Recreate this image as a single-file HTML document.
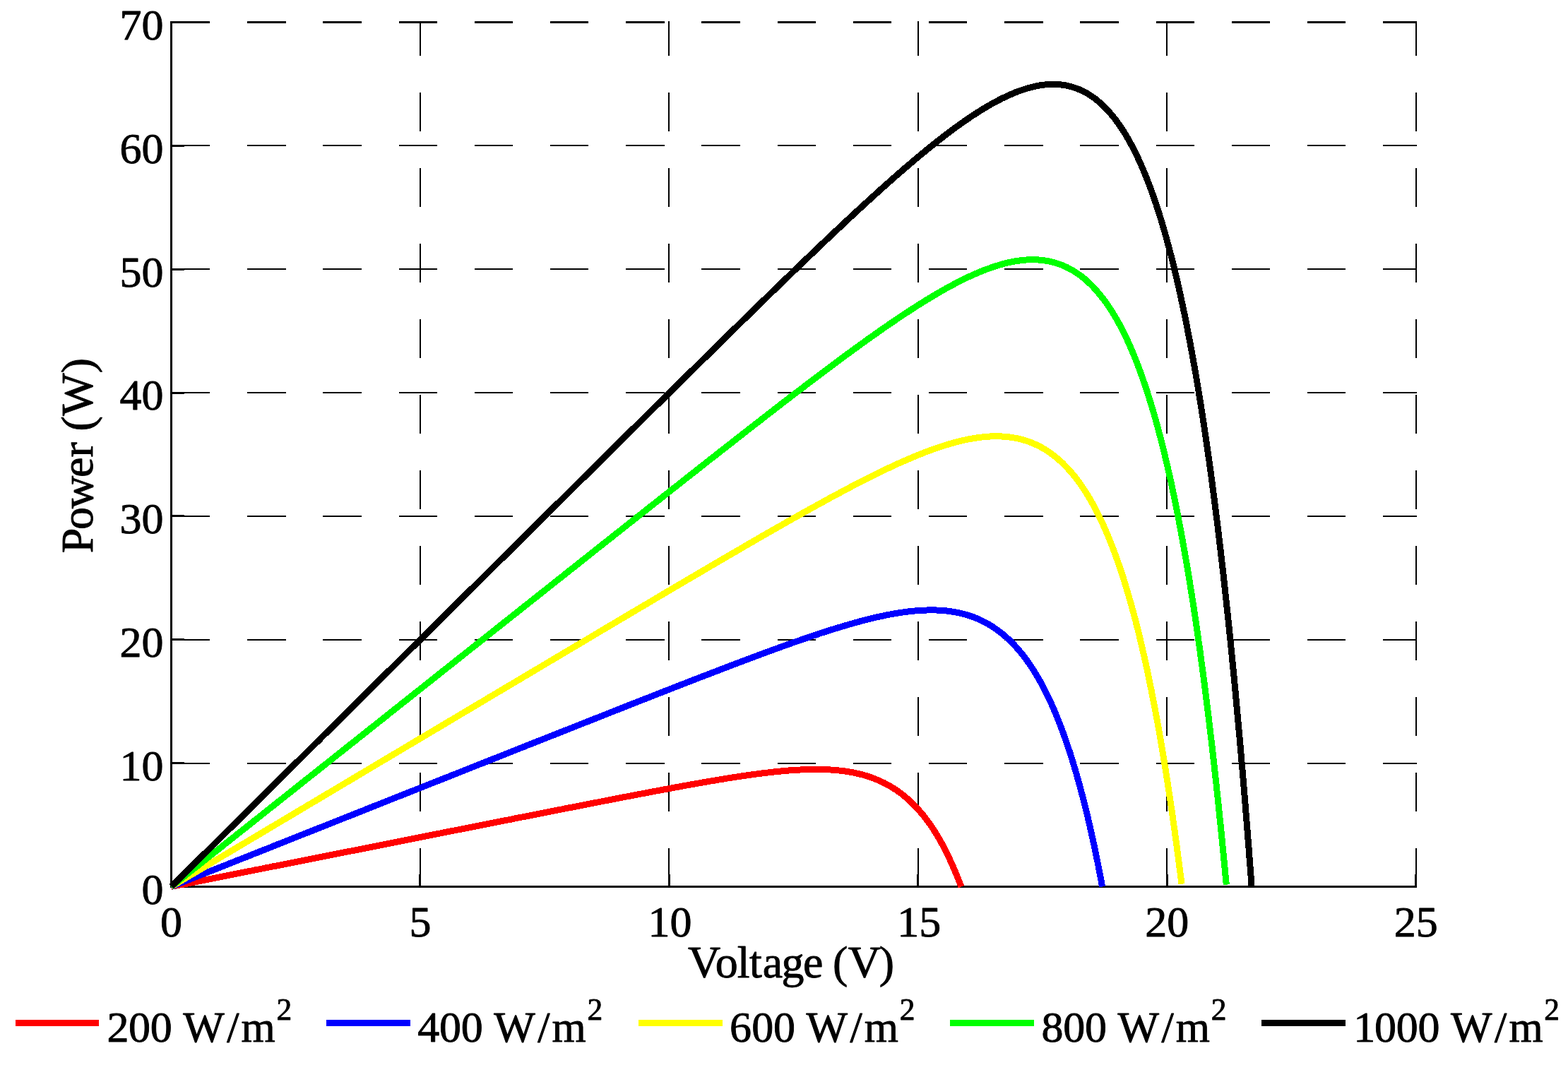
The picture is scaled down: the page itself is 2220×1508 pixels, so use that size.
<!DOCTYPE html>
<html lang="en"><head><meta charset="utf-8"><title>Power vs Voltage</title>
<style>html,body{margin:0;padding:0;background:#fff;width:2220px;height:1508px;overflow:hidden;}svg{display:block;}text{font-family:"Liberation Serif",serif;fill:#000;white-space:pre;}</style>
</head><body>
<svg width="2220" height="1508" viewBox="0 0 2220 1508">
<rect x="0" y="0" width="2220" height="1508" fill="#fff"/>
<g stroke="#000" fill="none" shape-rendering="crispEdges">
<line x1="242.90" y1="1080.64" x2="2006.25" y2="1080.64" stroke-width="2" stroke-dasharray="54.4 52.800000000000004"/>
<line x1="242.90" y1="905.78" x2="2006.25" y2="905.78" stroke-width="2" stroke-dasharray="54.4 52.800000000000004"/>
<line x1="242.90" y1="730.92" x2="2006.25" y2="730.92" stroke-width="2" stroke-dasharray="54.4 52.800000000000004"/>
<line x1="242.90" y1="556.06" x2="2006.25" y2="556.06" stroke-width="2" stroke-dasharray="54.4 52.800000000000004"/>
<line x1="242.90" y1="381.20" x2="2006.25" y2="381.20" stroke-width="2" stroke-dasharray="54.4 52.800000000000004"/>
<line x1="242.90" y1="206.34" x2="2006.25" y2="206.34" stroke-width="2" stroke-dasharray="54.4 52.800000000000004"/>
<line x1="242.90" y1="31.48" x2="2006.25" y2="31.48" stroke-width="3" stroke-dasharray="54.4 52.800000000000004"/>
<line x1="594.95" y1="1255.50" x2="594.95" y2="29.98" stroke-width="2" stroke-dasharray="54.5 52.5"/>
<line x1="947.40" y1="1255.50" x2="947.40" y2="29.98" stroke-width="2" stroke-dasharray="54.5 52.5"/>
<line x1="1299.85" y1="1255.50" x2="1299.85" y2="29.98" stroke-width="2" stroke-dasharray="54.5 52.5"/>
<line x1="1652.30" y1="1255.50" x2="1652.30" y2="29.98" stroke-width="2" stroke-dasharray="54.5 52.5"/>
<line x1="2004.75" y1="1255.50" x2="2004.75" y2="29.98" stroke-width="2" stroke-dasharray="54.5 52.5"/>
<line x1="242.50" y1="29.98" x2="242.50" y2="1257.00" stroke-width="3"/>
<line x1="241.00" y1="1255.50" x2="2006.25" y2="1255.50" stroke-width="3"/>
<line x1="242.50" y1="1080.64" x2="260.50" y2="1080.64" stroke-width="3"/>
<line x1="242.50" y1="905.78" x2="260.50" y2="905.78" stroke-width="3"/>
<line x1="242.50" y1="730.92" x2="260.50" y2="730.92" stroke-width="3"/>
<line x1="242.50" y1="556.06" x2="260.50" y2="556.06" stroke-width="3"/>
<line x1="242.50" y1="381.20" x2="260.50" y2="381.20" stroke-width="3"/>
<line x1="242.50" y1="206.34" x2="260.50" y2="206.34" stroke-width="3"/>
<line x1="594.95" y1="1255.50" x2="594.95" y2="1237.50" stroke-width="3"/>
<line x1="947.40" y1="1255.50" x2="947.40" y2="1237.50" stroke-width="3"/>
<line x1="1299.85" y1="1255.50" x2="1299.85" y2="1237.50" stroke-width="3"/>
<line x1="1652.30" y1="1255.50" x2="1652.30" y2="1237.50" stroke-width="3"/>
<line x1="2004.75" y1="1255.50" x2="2004.75" y2="1237.50" stroke-width="3"/>
</g>
<g fill="none" stroke-width="9" stroke-linejoin="round" stroke-linecap="butt" shape-rendering="crispEdges">
<path stroke="#ff0000" d="M242.5 1255.5L247.0 1254.6L251.4 1253.7L255.9 1252.8L260.3 1252.0L264.8 1251.1L269.2 1250.2L273.6 1249.3L278.1 1248.4L282.5 1247.6L286.9 1246.7L291.3 1245.8L295.7 1244.9L300.1 1244.1L304.5 1243.2L308.8 1242.3L313.2 1241.5L317.6 1240.6L321.9 1239.7L326.3 1238.9L330.6 1238.0L334.9 1237.2L339.3 1236.3L343.6 1235.4L347.9 1234.6L352.2 1233.7L356.5 1232.9L360.8 1232.0L365.1 1231.2L369.4 1230.3L373.6 1229.5L377.9 1228.6L382.2 1227.8L386.4 1226.9L390.7 1226.1L394.9 1225.3L399.1 1224.4L403.4 1223.6L407.6 1222.7L411.8 1221.9L416.0 1221.1L420.2 1220.2L424.4 1219.4L428.6 1218.6L432.7 1217.7L436.9 1216.9L441.1 1216.1L445.2 1215.3L449.4 1214.4L453.5 1213.6L457.6 1212.8L461.8 1212.0L465.9 1211.2L470.0 1210.4L474.1 1209.5L478.2 1208.7L482.3 1207.9L486.4 1207.1L490.4 1206.3L494.5 1205.5L498.6 1204.7L502.6 1203.9L506.7 1203.1L510.7 1202.3L514.7 1201.5L518.8 1200.7L522.8 1199.9L526.8 1199.1L530.8 1198.3L534.8 1197.5L538.8 1196.7L542.8 1195.9L546.7 1195.1L550.7 1194.3L554.7 1193.6L558.6 1192.8L562.6 1192.0L566.5 1191.2L570.4 1190.4L574.4 1189.6L578.3 1188.9L582.2 1188.1L586.1 1187.3L590.0 1186.5L593.9 1185.8L597.7 1185.0L601.6 1184.2L605.5 1183.5L609.3 1182.7L613.2 1181.9L617.0 1181.2L620.9 1180.4L624.7 1179.7L628.5 1178.9L632.3 1178.1L636.1 1177.4L639.9 1176.6L643.7 1175.9L647.5 1175.1L651.3 1174.4L655.0 1173.6L658.8 1172.9L662.6 1172.2L666.3 1171.4L670.0 1170.7L673.8 1169.9L677.5 1169.2L681.2 1168.5L684.9 1167.7L688.6 1167.0L692.3 1166.3L696.0 1165.5L699.7 1164.8L703.3 1164.1L707.0 1163.4L710.7 1162.6L714.3 1161.9L717.9 1161.2L721.6 1160.5L725.2 1159.8L728.8 1159.0L732.4 1158.3L736.0 1157.6L739.6 1156.9L743.2 1156.2L746.8 1155.5L750.3 1154.8L753.9 1154.1L757.5 1153.4L761.0 1152.7L764.5 1152.0L768.1 1151.3L771.6 1150.6L775.1 1149.9L778.6 1149.2L782.1 1148.5L785.6 1147.8L789.1 1147.1L792.6 1146.5L796.0 1145.8L799.5 1145.1L802.9 1144.4L806.4 1143.7L809.8 1143.1L813.2 1142.4L816.7 1141.7L820.1 1141.0L823.5 1140.4L826.9 1139.7L830.2 1139.0L833.6 1138.4L837.0 1137.7L840.4 1137.1L843.7 1136.4L847.1 1135.8L850.4 1135.1L853.7 1134.5L857.0 1133.8L860.4 1133.2L863.7 1132.5L867.0 1131.9L870.2 1131.2L873.5 1130.6L876.8 1130.0L880.1 1129.3L883.3 1128.7L886.6 1128.1L889.8 1127.5L893.0 1126.8L896.3 1126.2L899.5 1125.6L902.7 1125.0L905.9 1124.4L909.1 1123.8L912.2 1123.2L915.4 1122.6L918.6 1122.0L921.7 1121.4L924.9 1120.8L928.0 1120.2L931.1 1119.6L934.3 1119.0L937.4 1118.4L940.5 1117.8L943.6 1117.3L946.7 1116.7L949.7 1116.1L952.8 1115.5L955.9 1115.0L958.9 1114.4L962.0 1113.9L965.0 1113.3L968.0 1112.8L971.0 1112.2L974.0 1111.7L977.0 1111.1L980.0 1110.6L983.0 1110.1L986.0 1109.5L989.0 1109.0L991.9 1108.5L994.9 1108.0L997.8 1107.5L1000.7 1106.9L1003.6 1106.4L1006.6 1105.9L1009.5 1105.5L1012.4 1105.0L1015.2 1104.5L1018.1 1104.0L1021.0 1103.5L1023.8 1103.1L1026.7 1102.6L1029.5 1102.1L1032.4 1101.7L1035.2 1101.2L1038.0 1100.8L1040.8 1100.4L1043.6 1099.9L1046.4 1099.5L1049.1 1099.1L1051.9 1098.7L1054.7 1098.3L1057.4 1097.9L1060.2 1097.5L1062.9 1097.1L1065.6 1096.7L1068.3 1096.4L1071.0 1096.0L1073.7 1095.6L1076.4 1095.3L1079.1 1094.9L1081.7 1094.6L1084.4 1094.3L1087.0 1094.0L1089.7 1093.7L1092.3 1093.4L1094.9 1093.1L1097.5 1092.8L1100.1 1092.5L1102.7 1092.3L1105.3 1092.0L1107.8 1091.8L1110.4 1091.6L1112.9 1091.3L1115.5 1091.1L1118.0 1090.9L1120.5 1090.7L1123.0 1090.6L1125.5 1090.4L1128.0 1090.2L1130.5 1090.1L1133.0 1090.0L1135.4 1089.8L1137.9 1089.7L1140.3 1089.6L1142.7 1089.6L1145.1 1089.5L1147.6 1089.4L1150.0 1089.4L1152.3 1089.4L1154.7 1089.4L1157.1 1089.4L1159.4 1089.4L1161.8 1089.4L1164.1 1089.5L1166.4 1089.5L1168.8 1089.6L1171.1 1089.7L1173.4 1089.8L1175.6 1090.0L1177.9 1090.1L1180.2 1090.3L1182.4 1090.5L1184.7 1090.6L1186.9 1090.9L1189.1 1091.1L1191.3 1091.4L1193.5 1091.6L1195.7 1091.9L1197.9 1092.2L1200.1 1092.6L1202.2 1092.9L1204.4 1093.3L1206.5 1093.7L1208.6 1094.1L1210.7 1094.5L1212.8 1095.0L1214.9 1095.5L1217.0 1096.0L1219.1 1096.5L1221.1 1097.0L1223.2 1097.6L1225.2 1098.2L1227.2 1098.8L1229.2 1099.4L1231.2 1100.1L1233.2 1100.8L1235.2 1101.5L1237.2 1102.2L1239.1 1103.0L1241.1 1103.8L1243.0 1104.6L1244.9 1105.4L1246.8 1106.3L1248.7 1107.2L1250.6 1108.1L1252.5 1109.0L1254.3 1110.0L1256.2 1110.9L1258.0 1112.0L1259.8 1113.0L1261.6 1114.1L1263.4 1115.2L1265.2 1116.3L1267.0 1117.4L1268.8 1118.6L1270.5 1119.8L1272.2 1121.0L1274.0 1122.3L1275.7 1123.5L1277.4 1124.8L1279.0 1126.2L1280.7 1127.5L1282.4 1128.9L1284.0 1130.3L1285.7 1131.7L1287.3 1133.2L1288.9 1134.7L1290.5 1136.2L1292.0 1137.7L1293.6 1139.3L1295.2 1140.9L1296.7 1142.5L1298.2 1144.1L1299.7 1145.8L1301.2 1147.5L1302.7 1149.2L1304.2 1150.9L1305.6 1152.6L1307.1 1154.4L1308.5 1156.2L1309.9 1158.0L1311.3 1159.8L1312.7 1161.7L1314.1 1163.5L1315.4 1165.4L1316.8 1167.3L1318.1 1169.2L1319.4 1171.1L1320.7 1173.1L1322.0 1175.0L1323.2 1177.0L1324.5 1179.0L1325.7 1181.0L1326.9 1183.0L1328.1 1185.0L1329.3 1187.0L1330.5 1189.0L1331.6 1191.1L1332.7 1193.1L1333.8 1195.1L1334.9 1197.1L1336.0 1199.2L1337.1 1201.2L1338.1 1203.2L1339.2 1205.3L1340.2 1207.3L1341.2 1209.3L1342.1 1211.3L1343.1 1213.3L1344.0 1215.3L1344.9 1217.2L1345.8 1219.2L1346.7 1221.1L1347.6 1223.0L1348.4 1224.9L1349.2 1226.7L1350.0 1228.6L1350.8 1230.4L1351.6 1232.1L1352.3 1233.9L1353.0 1235.6L1353.7 1237.2L1354.3 1238.8L1355.0 1240.4L1355.6 1241.9L1356.2 1243.4L1356.7 1244.8L1357.3 1246.2L1357.8 1247.5L1358.2 1248.7L1358.7 1249.8L1359.1 1250.9L1359.5 1251.9L1359.8 1252.8L1360.1 1253.6L1360.4 1254.3L1360.6 1254.9L1360.7 1255.3L1360.8 1255.5"/>
<path stroke="#0000ff" d="M242.5 1255.5L247.8 1253.4L253.0 1251.3L258.3 1249.2L263.5 1247.2L268.8 1245.1L274.0 1243.0L279.2 1240.9L284.4 1238.9L289.6 1236.8L294.8 1234.7L300.0 1232.7L305.2 1230.6L310.4 1228.6L315.5 1226.5L320.7 1224.5L325.8 1222.4L331.0 1220.4L336.1 1218.3L341.2 1216.3L346.4 1214.3L351.5 1212.3L356.6 1210.2L361.7 1208.2L366.7 1206.2L371.8 1204.2L376.9 1202.2L382.0 1200.2L387.0 1198.1L392.0 1196.1L397.1 1194.1L402.1 1192.2L407.1 1190.2L412.1 1188.2L417.1 1186.2L422.1 1184.2L427.1 1182.2L432.1 1180.2L437.1 1178.3L442.0 1176.3L447.0 1174.3L451.9 1172.4L456.9 1170.4L461.8 1168.5L466.7 1166.5L471.6 1164.6L476.5 1162.6L481.4 1160.7L486.3 1158.7L491.2 1156.8L496.1 1154.9L500.9 1152.9L505.8 1151.0L510.6 1149.1L515.5 1147.2L520.3 1145.2L525.1 1143.3L529.9 1141.4L534.7 1139.5L539.5 1137.6L544.3 1135.7L549.1 1133.8L553.9 1131.9L558.6 1130.0L563.4 1128.1L568.1 1126.3L572.9 1124.4L577.6 1122.5L582.3 1120.6L587.0 1118.8L591.7 1116.9L596.4 1115.0L601.1 1113.2L605.8 1111.3L610.4 1109.5L615.1 1107.6L619.8 1105.8L624.4 1103.9L629.0 1102.1L633.7 1100.3L638.3 1098.4L642.9 1096.6L647.5 1094.8L652.1 1093.0L656.7 1091.1L661.2 1089.3L665.8 1087.5L670.3 1085.7L674.9 1083.9L679.4 1082.1L684.0 1080.3L688.5 1078.5L693.0 1076.7L697.5 1074.9L702.0 1073.2L706.5 1071.4L711.0 1069.6L715.4 1067.8L719.9 1066.1L724.3 1064.3L728.8 1062.5L733.2 1060.8L737.6 1059.0L742.0 1057.3L746.4 1055.5L750.8 1053.8L755.2 1052.0L759.6 1050.3L764.0 1048.6L768.3 1046.9L772.7 1045.1L777.0 1043.4L781.4 1041.7L785.7 1040.0L790.0 1038.3L794.3 1036.6L798.6 1034.9L802.9 1033.2L807.2 1031.5L811.5 1029.8L815.7 1028.1L820.0 1026.4L824.2 1024.7L828.4 1023.1L832.7 1021.4L836.9 1019.7L841.1 1018.1L845.3 1016.4L849.5 1014.8L853.7 1013.1L857.8 1011.5L862.0 1009.8L866.1 1008.2L870.3 1006.5L874.4 1004.9L878.5 1003.3L882.6 1001.7L886.8 1000.0L890.8 998.4L894.9 996.8L899.0 995.2L903.1 993.6L907.1 992.0L911.2 990.4L915.2 988.8L919.3 987.3L923.3 985.7L927.3 984.1L931.3 982.5L935.3 981.0L939.3 979.4L943.2 977.9L947.2 976.3L951.1 974.8L955.1 973.2L959.0 971.7L962.9 970.2L966.9 968.6L970.8 967.1L974.7 965.6L978.5 964.1L982.4 962.6L986.3 961.1L990.1 959.6L994.0 958.1L997.8 956.6L1001.7 955.2L1005.5 953.7L1009.3 952.2L1013.1 950.8L1016.9 949.3L1020.6 947.9L1024.4 946.4L1028.2 945.0L1031.9 943.5L1035.7 942.1L1039.4 940.7L1043.1 939.3L1046.8 937.9L1050.5 936.5L1054.2 935.1L1057.9 933.7L1061.5 932.3L1065.2 931.0L1068.9 929.6L1072.5 928.3L1076.1 926.9L1079.7 925.6L1083.3 924.2L1086.9 922.9L1090.5 921.6L1094.1 920.3L1097.7 919.0L1101.2 917.7L1104.8 916.4L1108.3 915.1L1111.8 913.9L1115.3 912.6L1118.9 911.4L1122.3 910.1L1125.8 908.9L1129.3 907.7L1132.8 906.5L1136.2 905.3L1139.7 904.1L1143.1 902.9L1146.5 901.8L1149.9 900.6L1153.3 899.5L1156.7 898.4L1160.1 897.2L1163.5 896.1L1166.8 895.0L1170.2 894.0L1173.5 892.9L1176.8 891.8L1180.1 890.8L1183.4 889.8L1186.7 888.8L1190.0 887.8L1193.3 886.8L1196.5 885.8L1199.8 884.9L1203.0 883.9L1206.3 883.0L1209.5 882.1L1212.7 881.2L1215.9 880.3L1219.1 879.5L1222.2 878.6L1225.4 877.8L1228.5 877.0L1231.7 876.2L1234.8 875.5L1237.9 874.7L1241.0 874.0L1244.1 873.3L1247.2 872.6L1250.3 872.0L1253.3 871.3L1256.4 870.7L1259.4 870.1L1262.5 869.6L1265.5 869.0L1268.5 868.5L1271.5 868.0L1274.4 867.5L1277.4 867.1L1280.4 866.7L1283.3 866.3L1286.2 865.9L1289.2 865.6L1292.1 865.3L1295.0 865.0L1297.9 864.7L1300.7 864.5L1303.6 864.3L1306.4 864.2L1309.3 864.0L1312.1 864.0L1314.9 863.9L1317.7 863.9L1320.5 863.9L1323.3 863.9L1326.1 864.0L1328.8 864.1L1331.6 864.3L1334.3 864.5L1337.0 864.7L1339.7 864.9L1342.4 865.3L1345.1 865.6L1347.7 866.0L1350.4 866.4L1353.0 866.9L1355.7 867.4L1358.3 868.0L1360.9 868.6L1363.5 869.2L1366.1 869.9L1368.6 870.6L1371.2 871.4L1373.7 872.2L1376.3 873.1L1378.8 874.0L1381.3 875.0L1383.8 876.0L1386.2 877.1L1388.7 878.2L1391.2 879.4L1393.6 880.7L1396.0 881.9L1398.4 883.3L1400.8 884.7L1403.2 886.1L1405.6 887.6L1407.9 889.2L1410.3 890.8L1412.6 892.5L1414.9 894.2L1417.2 896.0L1419.5 897.8L1421.8 899.7L1424.0 901.7L1426.3 903.7L1428.5 905.8L1430.7 907.9L1432.9 910.1L1435.1 912.4L1437.3 914.7L1439.5 917.1L1441.6 919.6L1443.8 922.1L1445.9 924.6L1448.0 927.3L1450.1 930.0L1452.1 932.7L1454.2 935.6L1456.2 938.4L1458.3 941.4L1460.3 944.4L1462.3 947.5L1464.3 950.6L1466.2 953.8L1468.2 957.1L1470.1 960.4L1472.1 963.8L1474.0 967.2L1475.9 970.7L1477.7 974.3L1479.6 977.9L1481.4 981.6L1483.3 985.3L1485.1 989.1L1486.9 992.9L1488.7 996.8L1490.4 1000.8L1492.2 1004.8L1493.9 1008.9L1495.6 1013.0L1497.3 1017.2L1499.0 1021.4L1500.7 1025.6L1502.3 1029.9L1503.9 1034.3L1505.6 1038.7L1507.1 1043.1L1508.7 1047.6L1510.3 1052.1L1511.8 1056.6L1513.3 1061.2L1514.9 1065.8L1516.3 1070.5L1517.8 1075.1L1519.3 1079.8L1520.7 1084.5L1522.1 1089.3L1523.5 1094.0L1524.9 1098.8L1526.2 1103.6L1527.6 1108.4L1528.9 1113.2L1530.2 1117.9L1531.4 1122.7L1532.7 1127.5L1533.9 1132.3L1535.1 1137.1L1536.3 1141.8L1537.5 1146.6L1538.6 1151.3L1539.8 1156.0L1540.9 1160.6L1542.0 1165.3L1543.0 1169.8L1544.0 1174.4L1545.1 1178.9L1546.0 1183.3L1547.0 1187.7L1547.9 1192.0L1548.9 1196.2L1549.7 1200.4L1550.6 1204.5L1551.4 1208.5L1552.2 1212.4L1553.0 1216.2L1553.8 1219.9L1554.5 1223.5L1555.2 1226.9L1555.8 1230.3L1556.5 1233.5L1557.1 1236.5L1557.6 1239.4L1558.1 1242.1L1558.6 1244.7L1559.1 1247.0L1559.5 1249.2L1559.8 1251.0L1560.1 1252.7L1560.4 1254.0L1560.6 1255.0L1560.7 1255.5"/>
<path stroke="#ffff00" d="M242.5 1255.5L248.2 1252.1L253.9 1248.7L259.6 1245.3L265.3 1241.9L271.0 1238.5L276.7 1235.2L282.3 1231.8L288.0 1228.4L293.6 1225.0L299.3 1221.7L304.9 1218.3L310.5 1215.0L316.2 1211.6L321.8 1208.3L327.4 1205.0L332.9 1201.7L338.5 1198.3L344.1 1195.0L349.7 1191.7L355.2 1188.4L360.8 1185.1L366.3 1181.8L371.8 1178.5L377.3 1175.2L382.8 1171.9L388.3 1168.7L393.8 1165.4L399.3 1162.1L404.8 1158.9L410.3 1155.6L415.7 1152.4L421.2 1149.1L426.6 1145.9L432.0 1142.7L437.4 1139.4L442.9 1136.2L448.3 1133.0L453.7 1129.8L459.0 1126.6L464.4 1123.4L469.8 1120.2L475.1 1117.0L480.5 1113.8L485.8 1110.6L491.2 1107.5L496.5 1104.3L501.8 1101.1L507.1 1098.0L512.4 1094.8L517.7 1091.7L523.0 1088.5L528.2 1085.4L533.5 1082.3L538.7 1079.1L544.0 1076.0L549.2 1072.9L554.4 1069.8L559.6 1066.7L564.8 1063.6L570.0 1060.5L575.2 1057.4L580.4 1054.3L585.6 1051.3L590.7 1048.2L595.9 1045.1L601.0 1042.1L606.1 1039.0L611.3 1036.0L616.4 1032.9L621.5 1029.9L626.6 1026.9L631.7 1023.8L636.7 1020.8L641.8 1017.8L646.9 1014.8L651.9 1011.8L656.9 1008.8L662.0 1005.8L667.0 1002.8L672.0 999.8L677.0 996.8L682.0 993.9L687.0 990.9L691.9 987.9L696.9 985.0L701.9 982.0L706.8 979.1L711.7 976.2L716.7 973.2L721.6 970.3L726.5 967.4L731.4 964.5L736.3 961.6L741.1 958.7L746.0 955.8L750.9 952.9L755.7 950.0L760.6 947.1L765.4 944.3L770.2 941.4L775.0 938.5L779.8 935.7L784.6 932.8L789.4 930.0L794.2 927.2L798.9 924.3L803.7 921.5L808.4 918.7L813.1 915.9L817.9 913.1L822.6 910.3L827.3 907.5L832.0 904.7L836.7 901.9L841.3 899.1L846.0 896.3L850.6 893.6L855.3 890.8L859.9 888.1L864.6 885.3L869.2 882.6L873.8 879.9L878.4 877.1L883.0 874.4L887.5 871.7L892.1 869.0L896.6 866.3L901.2 863.6L905.7 860.9L910.3 858.2L914.8 855.6L919.3 852.9L923.8 850.2L928.2 847.6L932.7 844.9L937.2 842.3L941.6 839.7L946.1 837.0L950.5 834.4L954.9 831.8L959.4 829.2L963.8 826.6L968.2 824.0L972.5 821.4L976.9 818.9L981.3 816.3L985.6 813.7L990.0 811.2L994.3 808.6L998.6 806.1L1002.9 803.6L1007.2 801.0L1011.5 798.5L1015.8 796.0L1020.1 793.5L1024.3 791.0L1028.6 788.6L1032.8 786.1L1037.0 783.6L1041.3 781.2L1045.5 778.7L1049.7 776.3L1053.8 773.8L1058.0 771.4L1062.2 769.0L1066.3 766.6L1070.5 764.2L1074.6 761.8L1078.7 759.4L1082.8 757.1L1086.9 754.7L1091.0 752.4L1095.1 750.0L1099.2 747.7L1103.2 745.4L1107.3 743.1L1111.3 740.8L1115.3 738.5L1119.4 736.2L1123.4 733.9L1127.3 731.7L1131.3 729.5L1135.3 727.2L1139.3 725.0L1143.2 722.8L1147.1 720.6L1151.1 718.4L1155.0 716.3L1158.9 714.1L1162.8 712.0L1166.7 709.8L1170.5 707.7L1174.4 705.6L1178.2 703.5L1182.1 701.5L1185.9 699.4L1189.7 697.4L1193.5 695.3L1197.3 693.3L1201.1 691.3L1204.9 689.3L1208.6 687.4L1212.4 685.4L1216.1 683.5L1219.8 681.6L1223.5 679.7L1227.2 677.8L1230.9 675.9L1234.6 674.1L1238.3 672.3L1241.9 670.5L1245.6 668.7L1249.2 666.9L1252.8 665.2L1256.4 663.5L1260.0 661.8L1263.6 660.1L1267.2 658.5L1270.7 656.8L1274.3 655.2L1277.8 653.7L1281.4 652.1L1284.9 650.6L1288.4 649.1L1291.9 647.6L1295.3 646.2L1298.8 644.7L1302.3 643.3L1305.7 642.0L1309.1 640.6L1312.6 639.3L1316.0 638.1L1319.4 636.8L1322.7 635.6L1326.1 634.4L1329.5 633.3L1332.8 632.2L1336.1 631.1L1339.5 630.1L1342.8 629.1L1346.1 628.1L1349.4 627.2L1352.6 626.3L1355.9 625.4L1359.1 624.6L1362.4 623.8L1365.6 623.1L1368.8 622.4L1372.0 621.8L1375.2 621.2L1378.3 620.6L1381.5 620.1L1384.6 619.7L1387.8 619.2L1390.9 618.9L1394.0 618.6L1397.1 618.3L1400.2 618.1L1403.2 617.9L1406.3 617.8L1409.3 617.8L1412.4 617.8L1415.4 617.9L1418.4 618.0L1421.4 618.2L1424.3 618.4L1427.3 618.7L1430.3 619.1L1433.2 619.5L1436.1 620.0L1439.0 620.5L1441.9 621.1L1444.8 621.8L1447.7 622.6L1450.5 623.4L1453.4 624.3L1456.2 625.3L1459.0 626.3L1461.8 627.4L1464.6 628.6L1467.4 629.9L1470.1 631.2L1472.9 632.6L1475.6 634.1L1478.3 635.7L1481.0 637.3L1483.7 639.1L1486.4 640.9L1489.0 642.8L1491.7 644.8L1494.3 646.9L1496.9 649.0L1499.5 651.3L1502.1 653.6L1504.7 656.0L1507.2 658.6L1509.8 661.2L1512.3 663.9L1514.8 666.7L1517.3 669.6L1519.8 672.5L1522.3 675.6L1524.7 678.8L1527.1 682.1L1529.6 685.4L1532.0 688.9L1534.4 692.5L1536.7 696.1L1539.1 699.9L1541.5 703.8L1543.8 707.7L1546.1 711.8L1548.4 715.9L1550.7 720.2L1552.9 724.6L1555.2 729.0L1557.4 733.6L1559.7 738.3L1561.9 743.1L1564.0 747.9L1566.2 752.9L1568.4 758.0L1570.5 763.2L1572.6 768.4L1574.7 773.8L1576.8 779.3L1578.9 784.8L1580.9 790.5L1583.0 796.3L1585.0 802.1L1587.0 808.1L1589.0 814.1L1591.0 820.3L1592.9 826.5L1594.8 832.8L1596.7 839.2L1598.6 845.7L1600.5 852.3L1602.4 859.0L1604.2 865.7L1606.1 872.5L1607.9 879.4L1609.6 886.4L1611.4 893.4L1613.2 900.6L1614.9 907.7L1616.6 915.0L1618.3 922.3L1620.0 929.6L1621.6 937.1L1623.3 944.5L1624.9 952.0L1626.5 959.6L1628.0 967.2L1629.6 974.8L1631.1 982.5L1632.6 990.2L1634.1 997.9L1635.6 1005.6L1637.0 1013.4L1638.5 1021.1L1639.9 1028.9L1641.3 1036.7L1642.6 1044.4L1643.9 1052.2L1645.3 1059.9L1646.6 1067.6L1647.8 1075.3L1649.1 1082.9L1650.3 1090.5L1651.5 1098.0L1652.7 1105.5L1653.8 1112.9L1654.9 1120.3L1656.0 1127.5L1657.1 1134.7L1658.1 1141.8L1659.2 1148.8L1660.2 1155.7L1661.1 1162.4L1662.0 1169.0L1663.0 1175.5L1663.8 1181.8L1664.7 1188.0L1665.5 1194.0L1666.3 1199.8L1667.0 1205.4L1667.7 1210.8L1668.4 1216.0L1669.1 1220.9L1669.7 1225.6L1670.2 1230.0L1670.8 1234.1L1671.2 1237.9L1671.7 1241.4L1672.1 1244.4L1672.4 1247.1L1672.7 1249.3L1672.9 1250.9L1673.0 1251.7"/>
<path stroke="#00ff00" d="M242.5 1255.5L248.5 1250.8L254.4 1246.0L260.4 1241.3L266.3 1236.6L272.3 1231.9L278.2 1227.2L284.1 1222.5L290.0 1217.8L295.9 1213.1L301.8 1208.4L307.7 1203.8L313.6 1199.1L319.4 1194.4L325.3 1189.8L331.1 1185.2L336.9 1180.5L342.8 1175.9L348.6 1171.3L354.4 1166.7L360.2 1162.1L366.0 1157.5L371.8 1152.9L377.5 1148.3L383.3 1143.7L389.1 1139.2L394.8 1134.6L400.5 1130.1L406.3 1125.5L412.0 1121.0L417.7 1116.4L423.4 1111.9L429.1 1107.4L434.7 1102.9L440.4 1098.4L446.1 1093.9L451.7 1089.4L457.4 1084.9L463.0 1080.5L468.6 1076.0L474.2 1071.6L479.8 1067.1L485.4 1062.7L491.0 1058.2L496.6 1053.8L502.2 1049.4L507.7 1045.0L513.3 1040.6L518.8 1036.2L524.3 1031.8L529.9 1027.4L535.4 1023.0L540.9 1018.7L546.4 1014.3L551.8 1009.9L557.3 1005.6L562.8 1001.3L568.2 996.9L573.7 992.6L579.1 988.3L584.5 984.0L589.9 979.7L595.4 975.4L600.7 971.1L606.1 966.9L611.5 962.6L616.9 958.3L622.2 954.1L627.6 949.8L632.9 945.6L638.3 941.4L643.6 937.1L648.9 932.9L654.2 928.7L659.5 924.5L664.7 920.3L670.0 916.2L675.3 912.0L680.5 907.8L685.8 903.7L691.0 899.5L696.2 895.4L701.4 891.2L706.6 887.1L711.8 883.0L717.0 878.9L722.2 874.8L727.3 870.7L732.5 866.6L737.6 862.5L742.8 858.4L747.9 854.4L753.0 850.3L758.1 846.3L763.2 842.2L768.3 838.2L773.4 834.2L778.4 830.2L783.5 826.1L788.5 822.1L793.6 818.2L798.6 814.2L803.6 810.2L808.6 806.2L813.6 802.3L818.6 798.3L823.5 794.4L828.5 790.5L833.5 786.5L838.4 782.6L843.3 778.7L848.2 774.8L853.2 770.9L858.1 767.0L863.0 763.2L867.8 759.3L872.7 755.4L877.6 751.6L882.4 747.8L887.3 743.9L892.1 740.1L896.9 736.3L901.7 732.5L906.5 728.7L911.3 724.9L916.1 721.1L920.8 717.4L925.6 713.6L930.3 709.9L935.1 706.1L939.8 702.4L944.5 698.7L949.2 694.9L953.9 691.2L958.6 687.6L963.3 683.9L967.9 680.2L972.6 676.5L977.2 672.9L981.9 669.2L986.5 665.6L991.1 662.0L995.7 658.3L1000.3 654.7L1004.8 651.1L1009.4 647.6L1014.0 644.0L1018.5 640.4L1023.0 636.9L1027.6 633.3L1032.1 629.8L1036.6 626.3L1041.1 622.7L1045.6 619.2L1050.0 615.8L1054.5 612.3L1058.9 608.8L1063.4 605.4L1067.8 601.9L1072.2 598.5L1076.6 595.1L1081.0 591.6L1085.4 588.2L1089.7 584.9L1094.1 581.5L1098.5 578.1L1102.8 574.8L1107.1 571.4L1111.4 568.1L1115.7 564.8L1120.0 561.5L1124.3 558.2L1128.6 555.0L1132.8 551.7L1137.1 548.5L1141.3 545.2L1145.5 542.0L1149.8 538.8L1154.0 535.6L1158.2 532.5L1162.3 529.3L1166.5 526.2L1170.7 523.1L1174.8 520.0L1178.9 516.9L1183.1 513.8L1187.2 510.8L1191.3 507.7L1195.4 504.7L1199.4 501.7L1203.5 498.7L1207.6 495.8L1211.6 492.8L1215.6 489.9L1219.6 487.0L1223.7 484.1L1227.7 481.2L1231.6 478.4L1235.6 475.6L1239.6 472.8L1243.5 470.0L1247.4 467.2L1251.4 464.5L1255.3 461.8L1259.2 459.1L1263.1 456.4L1267.0 453.8L1270.8 451.2L1274.7 448.6L1278.5 446.0L1282.3 443.5L1286.2 441.0L1290.0 438.5L1293.8 436.1L1297.5 433.6L1301.3 431.2L1305.1 428.9L1308.8 426.6L1312.5 424.3L1316.3 422.0L1320.0 419.8L1323.7 417.6L1327.3 415.4L1331.0 413.3L1334.7 411.2L1338.3 409.1L1341.9 407.1L1345.6 405.1L1349.2 403.2L1352.8 401.3L1356.3 399.4L1359.9 397.6L1363.5 395.9L1367.0 394.1L1370.5 392.4L1374.1 390.8L1377.6 389.2L1381.1 387.7L1384.5 386.2L1388.0 384.7L1391.5 383.3L1394.9 382.0L1398.3 380.7L1401.8 379.5L1405.2 378.3L1408.5 377.2L1411.9 376.1L1415.3 375.1L1418.6 374.1L1422.0 373.2L1425.3 372.4L1428.6 371.6L1431.9 370.9L1435.2 370.3L1438.5 369.7L1441.7 369.2L1445.0 368.8L1448.2 368.4L1451.4 368.1L1454.6 367.9L1457.8 367.8L1461.0 367.7L1464.1 367.7L1467.3 367.8L1470.4 368.0L1473.5 368.3L1476.6 368.6L1479.7 369.0L1482.8 369.5L1485.9 370.1L1488.9 370.8L1492.0 371.6L1495.0 372.5L1498.0 373.4L1501.0 374.5L1504.0 375.6L1506.9 376.9L1509.9 378.2L1512.8 379.7L1515.8 381.2L1518.7 382.9L1521.6 384.7L1524.4 386.5L1527.3 388.5L1530.2 390.6L1533.0 392.8L1535.8 395.1L1538.6 397.6L1541.4 400.1L1544.2 402.8L1546.9 405.5L1549.7 408.4L1552.4 411.5L1555.1 414.6L1557.8 417.9L1560.5 421.3L1563.2 424.8L1565.9 428.4L1568.5 432.2L1571.1 436.1L1573.7 440.1L1576.3 444.3L1578.9 448.6L1581.5 453.0L1584.0 457.6L1586.5 462.3L1589.0 467.1L1591.5 472.1L1594.0 477.2L1596.5 482.5L1598.9 487.9L1601.4 493.4L1603.8 499.1L1606.2 504.9L1608.6 510.9L1610.9 517.0L1613.3 523.2L1615.6 529.6L1617.9 536.1L1620.2 542.8L1622.5 549.6L1624.8 556.5L1627.0 563.6L1629.3 570.8L1631.5 578.2L1633.7 585.7L1635.9 593.3L1638.0 601.1L1640.2 609.0L1642.3 617.1L1644.4 625.2L1646.5 633.6L1648.6 642.0L1650.6 650.6L1652.7 659.3L1654.7 668.1L1656.7 677.0L1658.7 686.1L1660.6 695.3L1662.6 704.6L1664.5 714.0L1666.4 723.5L1668.3 733.1L1670.1 742.9L1672.0 752.7L1673.8 762.6L1675.6 772.6L1677.4 782.8L1679.2 793.0L1680.9 803.2L1682.7 813.6L1684.4 824.0L1686.0 834.5L1687.7 845.0L1689.4 855.6L1691.0 866.3L1692.6 877.0L1694.2 887.7L1695.7 898.5L1697.2 909.3L1698.8 920.1L1700.2 931.0L1701.7 941.8L1703.2 952.6L1704.6 963.4L1706.0 974.3L1707.3 985.0L1708.7 995.8L1710.0 1006.5L1711.3 1017.1L1712.6 1027.7L1713.8 1038.3L1715.1 1048.7L1716.3 1059.1L1717.4 1069.3L1718.6 1079.5L1719.7 1089.5L1720.8 1099.4L1721.9 1109.1L1722.9 1118.7L1723.9 1128.2L1724.9 1137.4L1725.8 1146.4L1726.7 1155.3L1727.6 1163.9L1728.5 1172.2L1729.3 1180.3L1730.1 1188.2L1730.8 1195.7L1731.5 1202.9L1732.2 1209.8L1732.8 1216.4L1733.4 1222.5L1734.0 1228.2L1734.5 1233.5L1734.9 1238.4L1735.3 1242.6L1735.7 1246.3L1736.0 1249.4L1736.2 1251.6L1736.3 1252.7"/>
<path stroke="#000000" d="M242.5 1255.5L248.6 1249.4L254.7 1243.4L260.8 1237.3L266.9 1231.3L273.0 1225.3L279.0 1219.2L285.1 1213.2L291.2 1207.2L297.2 1201.2L303.2 1195.2L309.2 1189.3L315.3 1183.3L321.3 1177.3L327.3 1171.4L333.2 1165.5L339.2 1159.5L345.2 1153.6L351.1 1147.7L357.1 1141.8L363.0 1135.9L369.0 1130.0L374.9 1124.2L380.8 1118.3L386.7 1112.4L392.6 1106.6L398.5 1100.8L404.3 1094.9L410.2 1089.1L416.0 1083.3L421.9 1077.5L427.7 1071.7L433.5 1065.9L439.4 1060.2L445.2 1054.4L451.0 1048.7L456.7 1042.9L462.5 1037.2L468.3 1031.5L474.0 1025.7L479.8 1020.0L485.5 1014.3L491.3 1008.7L497.0 1003.0L502.7 997.3L508.4 991.7L514.1 986.0L519.8 980.4L525.4 974.8L531.1 969.1L536.8 963.5L542.4 957.9L548.0 952.3L553.7 946.8L559.3 941.2L564.9 935.6L570.5 930.1L576.0 924.5L581.6 919.0L587.2 913.5L592.7 908.0L598.3 902.5L603.8 897.0L609.3 891.5L614.9 886.0L620.4 880.6L625.9 875.1L631.4 869.7L636.8 864.2L642.3 858.8L647.8 853.4L653.2 848.0L658.6 842.6L664.1 837.2L669.5 831.9L674.9 826.5L680.3 821.1L685.7 815.8L691.0 810.5L696.4 805.1L701.8 799.8L707.1 794.5L712.5 789.2L717.8 783.9L723.1 778.7L728.4 773.4L733.7 768.2L739.0 762.9L744.3 757.7L749.5 752.5L754.8 747.2L760.0 742.0L765.3 736.9L770.5 731.7L775.7 726.5L780.9 721.3L786.1 716.2L791.3 711.1L796.5 705.9L801.6 700.8L806.8 695.7L811.9 690.6L817.1 685.5L822.2 680.4L827.3 675.4L832.4 670.3L837.5 665.3L842.6 660.2L847.6 655.2L852.7 650.2L857.8 645.2L862.8 640.2L867.8 635.2L872.8 630.3L877.8 625.3L882.8 620.4L887.8 615.4L892.8 610.5L897.8 605.6L902.7 600.7L907.7 595.8L912.6 590.9L917.5 586.0L922.4 581.2L927.3 576.3L932.2 571.5L937.1 566.7L942.0 561.9L946.9 557.1L951.7 552.3L956.5 547.5L961.4 542.7L966.2 538.0L971.0 533.2L975.8 528.5L980.6 523.8L985.3 519.1L990.1 514.4L994.9 509.7L999.6 505.1L1004.3 500.4L1009.1 495.8L1013.8 491.1L1018.5 486.5L1023.1 481.9L1027.8 477.3L1032.5 472.8L1037.1 468.2L1041.8 463.6L1046.4 459.1L1051.0 454.6L1055.6 450.1L1060.2 445.6L1064.8 441.1L1069.4 436.6L1074.0 432.2L1078.5 427.7L1083.1 423.3L1087.6 418.9L1092.1 414.5L1096.6 410.1L1101.1 405.8L1105.6 401.4L1110.1 397.1L1114.6 392.8L1119.0 388.5L1123.4 384.2L1127.9 379.9L1132.3 375.7L1136.7 371.4L1141.1 367.2L1145.5 363.0L1149.9 358.8L1154.2 354.6L1158.6 350.5L1162.9 346.4L1167.2 342.3L1171.5 338.2L1175.8 334.1L1180.1 330.0L1184.4 326.0L1188.7 322.0L1192.9 318.0L1197.2 314.0L1201.4 310.1L1205.6 306.1L1209.9 302.2L1214.1 298.3L1218.2 294.5L1222.4 290.6L1226.6 286.8L1230.7 283.0L1234.9 279.3L1239.0 275.5L1243.1 271.8L1247.2 268.1L1251.3 264.4L1255.4 260.8L1259.4 257.2L1263.5 253.6L1267.5 250.0L1271.6 246.5L1275.6 243.0L1279.6 239.5L1283.6 236.1L1287.6 232.7L1291.5 229.3L1295.5 226.0L1299.4 222.7L1303.4 219.4L1307.3 216.2L1311.2 212.9L1315.1 209.8L1319.0 206.6L1322.9 203.5L1326.7 200.5L1330.6 197.5L1334.4 194.5L1338.2 191.5L1342.0 188.7L1345.8 185.8L1349.6 183.0L1353.4 180.2L1357.1 177.5L1360.9 174.8L1364.6 172.2L1368.3 169.6L1372.0 167.1L1375.7 164.6L1379.4 162.2L1383.1 159.8L1386.7 157.5L1390.4 155.2L1394.0 153.0L1397.6 150.9L1401.2 148.8L1404.8 146.7L1408.4 144.8L1412.0 142.8L1415.5 141.0L1419.0 139.2L1422.6 137.5L1426.1 135.9L1429.6 134.3L1433.1 132.8L1436.5 131.3L1440.0 130.0L1443.4 128.7L1446.9 127.5L1450.3 126.3L1453.7 125.3L1457.1 124.3L1460.5 123.4L1463.8 122.6L1467.2 121.9L1470.5 121.2L1473.8 120.7L1477.1 120.2L1480.4 119.9L1483.7 119.6L1487.0 119.4L1490.2 119.3L1493.5 119.4L1496.7 119.5L1499.9 119.7L1503.1 120.1L1506.3 120.5L1509.4 121.0L1512.6 121.7L1515.7 122.5L1518.9 123.4L1522.0 124.4L1525.1 125.5L1528.1 126.7L1531.2 128.1L1534.3 129.6L1537.3 131.2L1540.3 132.9L1543.3 134.8L1546.3 136.8L1549.3 138.9L1552.3 141.2L1555.2 143.6L1558.1 146.2L1561.1 148.9L1564.0 151.7L1566.9 154.7L1569.7 157.8L1572.6 161.0L1575.4 164.5L1578.3 168.0L1581.1 171.8L1583.9 175.6L1586.6 179.7L1589.4 183.9L1592.2 188.2L1594.9 192.8L1597.6 197.4L1600.3 202.3L1603.0 207.3L1605.7 212.5L1608.3 217.8L1611.0 223.4L1613.6 229.0L1616.2 234.9L1618.8 241.0L1621.4 247.2L1623.9 253.6L1626.5 260.1L1629.0 266.9L1631.5 273.8L1634.0 280.9L1636.5 288.2L1638.9 295.7L1641.4 303.3L1643.8 311.1L1646.2 319.1L1648.6 327.3L1651.0 335.7L1653.3 344.3L1655.7 353.0L1658.0 361.9L1660.3 371.0L1662.6 380.3L1664.8 389.7L1667.1 399.4L1669.3 409.2L1671.5 419.1L1673.7 429.3L1675.9 439.6L1678.1 450.1L1680.2 460.8L1682.3 471.6L1684.4 482.6L1686.5 493.8L1688.6 505.1L1690.6 516.6L1692.7 528.2L1694.7 540.0L1696.7 552.0L1698.6 564.1L1700.6 576.3L1702.5 588.6L1704.4 601.1L1706.3 613.7L1708.2 626.5L1710.0 639.3L1711.9 652.3L1713.7 665.4L1715.5 678.6L1717.2 691.9L1719.0 705.3L1720.7 718.7L1722.4 732.3L1724.1 745.9L1725.7 759.5L1727.4 773.3L1729.0 787.1L1730.6 800.9L1732.2 814.8L1733.7 828.6L1735.2 842.5L1736.7 856.4L1738.2 870.3L1739.7 884.2L1741.1 898.1L1742.5 911.9L1743.9 925.7L1745.2 939.5L1746.6 953.2L1747.9 966.8L1749.2 980.3L1750.4 993.7L1751.6 1007.0L1752.8 1020.1L1754.0 1033.2L1755.2 1046.0L1756.3 1058.7L1757.4 1071.2L1758.4 1083.5L1759.5 1095.6L1760.5 1107.5L1761.4 1119.1L1762.4 1130.4L1763.3 1141.5L1764.1 1152.2L1765.0 1162.6L1765.8 1172.7L1766.5 1182.3L1767.3 1191.6L1768.0 1200.5L1768.6 1208.8L1769.2 1216.7L1769.8 1224.1L1770.3 1230.9L1770.8 1237.1L1771.2 1242.6L1771.5 1247.3L1771.8 1251.2L1772.0 1254.1L1772.1 1255.5"/>
</g>
<g font-size="62" stroke="#000" stroke-width="0.9" stroke-linejoin="round">
<text x="231.6" y="1279.8" text-anchor="end">0</text>
<text x="231.6" y="1104.9" text-anchor="end">10</text>
<text x="231.6" y="930.1" text-anchor="end">20</text>
<text x="231.6" y="755.2" text-anchor="end">30</text>
<text x="231.6" y="580.4" text-anchor="end">40</text>
<text x="231.6" y="405.5" text-anchor="end">50</text>
<text x="231.6" y="230.6" text-anchor="end">60</text>
<text x="231.6" y="55.8" text-anchor="end">70</text>
<text x="242.5" y="1326.4" text-anchor="middle">0</text>
<text x="595.0" y="1326.4" text-anchor="middle">5</text>
<text x="948.6" y="1326.4" text-anchor="middle">10</text>
<text x="1301.3" y="1326.4" text-anchor="middle">15</text>
<text x="1652.3" y="1326.4" text-anchor="middle">20</text>
<text x="2004.7" y="1326.4" text-anchor="middle">25</text>
</g>
<text x="974.1 1012.8 1043.8 1061.1 1079.8 1106.4 1136.9 1165.3 1179.1 1200.7 1244.7" y="1384" font-size="64" stroke="#000" stroke-width="0.9" stroke-linejoin="round">Voltage (V)</text>
<text transform="translate(131 781.7) rotate(-90)" x="-1.5 31.7 61.8 105.6 134.3 155.6 171.2 193.0 253.5" y="0" font-size="64" stroke="#000" stroke-width="0.9" stroke-linejoin="round">Power (W)</text>
<line x1="21.8" y1="1448.5" x2="140.1" y2="1448.5" stroke="#ff0000" stroke-width="9" shape-rendering="crispEdges"/>
<text x="151.6 182.0 212.7 243.7 259.3 321.2 341.6" y="1475.3" font-size="62" stroke="#000" stroke-width="0.9" stroke-linejoin="round">200 W/m<tspan x="391.5" y="1443.8" font-size="43.5">2</tspan></text>
<line x1="461.8" y1="1448.5" x2="581.1" y2="1448.5" stroke="#0000ff" stroke-width="9" shape-rendering="crispEdges"/>
<text x="591.2 622.0 652.7 683.7 699.3 761.2 781.6" y="1475.3" font-size="62" stroke="#000" stroke-width="0.9" stroke-linejoin="round">400 W/m<tspan x="831.5" y="1443.8" font-size="43.5">2</tspan></text>
<line x1="904.0" y1="1448.5" x2="1023.1" y2="1448.5" stroke="#ffff00" stroke-width="9" shape-rendering="crispEdges"/>
<text x="1033.1 1064.2 1094.9 1125.9 1141.5 1203.4 1223.8" y="1475.3" font-size="62" stroke="#000" stroke-width="0.9" stroke-linejoin="round">600 W/m<tspan x="1273.7" y="1443.8" font-size="43.5">2</tspan></text>
<line x1="1345.0" y1="1448.5" x2="1463.9" y2="1448.5" stroke="#00ff00" stroke-width="9" shape-rendering="crispEdges"/>
<text x="1474.5 1505.2 1535.9 1566.9 1582.5 1644.4 1664.8" y="1475.3" font-size="62" stroke="#000" stroke-width="0.9" stroke-linejoin="round">800 W/m<tspan x="1714.7" y="1443.8" font-size="43.5">2</tspan></text>
<line x1="1785.9" y1="1448.5" x2="1905.0" y2="1448.5" stroke="#000000" stroke-width="9" shape-rendering="crispEdges"/>
<text x="1916.3 1946.1 1976.8 2007.5 2038.5 2054.1 2116.0 2136.4" y="1475.3" font-size="62" stroke="#000" stroke-width="0.9" stroke-linejoin="round">1000 W/m<tspan x="2186.3" y="1443.8" font-size="43.5">2</tspan></text>
</svg>
</body></html>
